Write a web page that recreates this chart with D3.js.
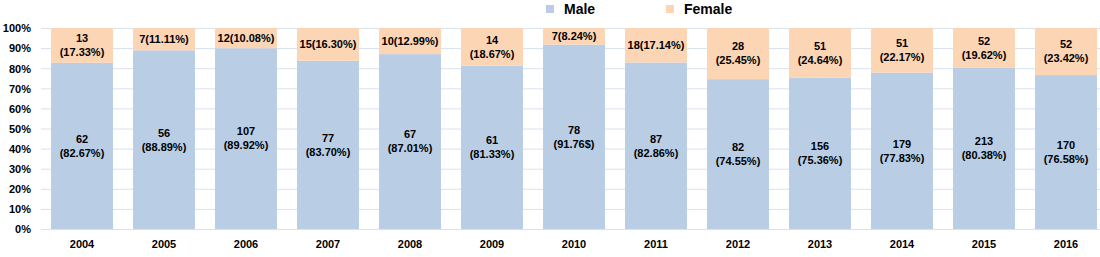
<!DOCTYPE html>
<html>
<head>
<meta charset="utf-8">
<script src="https://cdn.jsdelivr.net/npm/d3@7"></script>
<style>
  body { margin: 0; background: #fff; }
  text { font-family: "Liberation Sans", Arial, sans-serif; font-weight: bold; fill: #000; }
</style>
</head>
<body>
<div id="chart"></div>
<script>
// data
var years = ["2004", "2005", "2006", "2007", "2008", "2009", "2010", "2011", "2012", "2013", "2014", "2015", "2016"];
var malePct = [82.67, 88.89, 89.92, 83.70, 87.01, 81.33, 91.76, 82.86, 74.55, 75.36, 77.83, 80.38, 76.58];
var femalePct = [17.33, 11.11, 10.08, 16.30, 12.99, 18.67, 8.24, 17.14, 25.45, 24.64, 22.17, 19.62, 23.42];
var maleLabels = ["62|(82.67%)", "56|(88.89%)", "107|(89.92%)", "77|(83.70%)", "67|(87.01%)", "61|(81.33%)",
  "78|(91.76$)", "87|(82.86%)", "82|(74.55%)", "156|(75.36%)", "179|(77.83%)", "213|(80.38%)", "170|(76.58%)"];
var femaleLabels = ["13|(17.33%)", "7(11.11%)", "12(10.08%)", "15(16.30%)", "10(12.99%)", "14|(18.67%)",
  "7(8.24%)", "18(17.14%)", "28|(25.45%)", "51|(24.64%)", "51|(22.17%)", "52|(19.62%)", "52|(23.42%)"];
var yTicks = [0, 10, 20, 30, 40, 50, 60, 70, 80, 90, 100];
var seriesNames = ["Male", "Female"];
var colors = ["#b9cde5", "#fcd5b5"];

var width = 1100, height = 257;

var svg = d3.select("#chart").append("svg")
    .attr("width", width)
    .attr("height", height);

var x = d3.scaleBand().domain(years).range([41, 1107]).paddingInner(0.244).paddingOuter(0.122);
var y = d3.scaleLinear().domain([0, 100]).range([229, 28]);

// gridlines
svg.append("g").selectAll("line")
    .data(yTicks)
  .enter().append("line")
    .attr("x1", 41).attr("x2", width)
    .attr("y1", function(d) { return y(d) + 0.5; })
    .attr("y2", function(d) { return y(d) + 0.5; })
    .style("stroke", "#d9e1ef")
    .style("stroke-width", 1);

// y axis labels
var yAxis = svg.append("g")
    .attr("transform", "translate(41,0)")
    .call(d3.axisLeft(y).tickValues(yTicks).tickSize(0).tickPadding(10)
      .tickFormat(function(d) { return d + "%"; }));
yAxis.select(".domain").remove();
yAxis.selectAll("text").style("font-size", "11px").style("font-family", null).attr("dy", "0.35em");

var rows = years.map(function(yr, i) {
  return { year: yr, male: malePct[i], female: femalePct[i], ml: maleLabels[i], fl: femaleLabels[i] };
});

// male bars
svg.append("g").selectAll("rect")
    .data(rows)
  .enter().append("rect")
    .attr("x", function(d) { return x(d.year); })
    .attr("width", x.bandwidth())
    .attr("y", function(d) { return y(d.male); })
    .attr("height", function(d) { return y(0) - y(d.male); })
    .style("fill", colors[0]);

// female bars, stacked on top
svg.append("g").selectAll("rect")
    .data(rows)
  .enter().append("rect")
    .attr("x", function(d) { return x(d.year); })
    .attr("width", x.bandwidth())
    .attr("y", function(d) { return y(d.male + d.female); })
    .attr("height", function(d) { return y(d.male) - y(d.male + d.female); })
    .style("fill", colors[1]);

// data labels
function addLabel(g, str, cx, cy) {
  var lines = str.split("|");
  var t = g.append("text")
      .attr("text-anchor", "middle")
      .style("font-size", "11px");
  lines.forEach(function(l, k) {
    t.append("tspan")
        .attr("x", cx)
        .attr("y", cy + (k - (lines.length - 1) / 2) * 14)
        .attr("dy", "0.35em")
        .text(l);
  });
}

var labels = svg.append("g");
rows.forEach(function(d) {
  var cx = x(d.year) + x.bandwidth() / 2;
  addLabel(labels, d.ml, cx, (y(0) + y(d.male)) / 2);
  addLabel(labels, d.fl, cx, (y(d.male) + y(d.male + d.female)) / 2);
});

// x axis labels
var xAxis = svg.append("g")
    .attr("transform", "translate(0,229)")
    .call(d3.axisBottom(x).tickSize(0).tickPadding(11));
xAxis.select(".domain").remove();
xAxis.selectAll("text").style("font-size", "11px").style("font-family", null);

// legend
var legend = svg.append("g").selectAll("g")
    .data(seriesNames)
  .enter().append("g")
    .attr("transform", function(d, i) { return "translate(" + (546 + i * 120) + ",5)"; });

legend.append("rect")
    .attr("width", 8).attr("height", 8)
    .style("fill", function(d, i) { return colors[i]; });

legend.append("text")
    .attr("x", 18)
    .attr("y", 4)
    .attr("dy", "0.35em")
    .style("font-size", "14px")
    .text(function(d) { return d; });
</script>
</body>
</html>
